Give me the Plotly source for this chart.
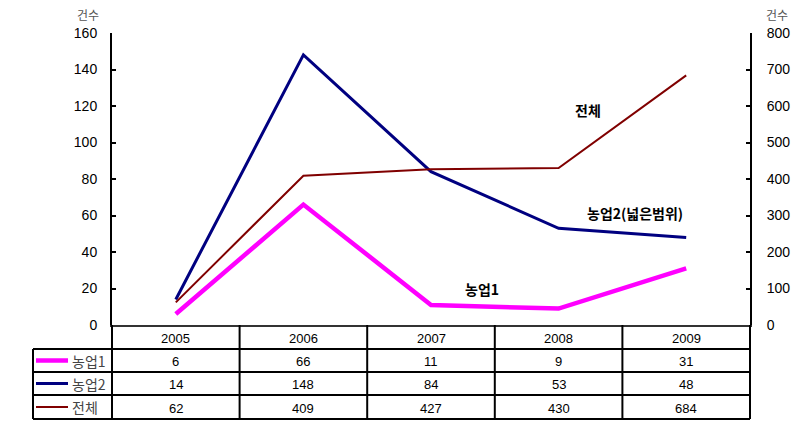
import plotly.graph_objects as go

years = ["2005", "2006", "2007", "2008", "2009"]
farm1 = [6, 66, 11, 9, 31]
farm2 = [14, 148, 84, 53, 48]
total = [62, 409, 427, 430, 684]
series_names = ["농업1", "농업2", "전체"]
left_ticks = [0, 20, 40, 60, 80, 100, 120, 140, 160]
right_ticks = [0, 100, 200, 300, 400, 500, 600, 700, 800]

W, H = 808, 440
L, R, T, B = 112, 750, 33, 325
FONT = "Liberation Sans, Arial, Noto Sans CJK KR"
KFONT = "Noto Sans CJK KR, Liberation Sans"

def px(x):
    return (x - L) / (R - L)

def py(y):
    return (B - y) / (B - T)

xi = list(range(len(years)))
fig = go.Figure()
fig.add_trace(go.Scatter(x=xi, y=total, yaxis="y2", mode="lines",
                         line=dict(color="#800000", width=2), name=series_names[2]))
fig.add_trace(go.Scatter(x=xi, y=farm2, mode="lines",
                         line=dict(color="#000080", width=3), name=series_names[1]))
fig.add_trace(go.Scatter(x=xi, y=farm1, mode="lines",
                         line=dict(color="#FF00FF", width=4.5), name=series_names[0]))

shapes = []
annotations = []

def text(x, y, s, font, xanchor="center"):
    annotations.append(dict(xref="paper", yref="paper", x=px(x), y=py(y), text=s,
                            xanchor=xanchor, yanchor="middle", showarrow=False, font=font))

# table geometry (pixel positions)
col_edges = [L + (R - L) * i / len(years) for i in range(len(years) + 1)]
row_edges = [325, 349, 372, 395, 419]
tbl_left = 33
lw = 2

def line(x0, y0, x1, y1, w=lw, c="black"):
    shapes.append(dict(type="line", xref="paper", yref="paper",
                       x0=px(x0), y0=py(y0), x1=px(x1), y1=py(y1),
                       line=dict(color=c, width=w)))

for ry in row_edges[1:]:
    line(tbl_left, ry, R, ry)
line(L, row_edges[0] + 1, R, row_edges[0] + 1, w=1.5, c="#333")
for cx in col_edges:
    line(cx, row_edges[0], cx, row_edges[-1])
line(tbl_left, row_edges[1], tbl_left, row_edges[-1])

numfont = dict(family=FONT, size=13, color="black")
for i, yr in enumerate(years):
    cx = (col_edges[i] + col_edges[i + 1]) / 2
    text(cx, (row_edges[0] + row_edges[1]) / 2 + 1, yr, numfont)

rows = [(series_names[0], farm1, "#FF00FF", 4.5),
        (series_names[1], farm2, "#000080", 3),
        (series_names[2], total, "#800000", 2)]
for r, (nm, vals, col, w) in enumerate(rows):
    yc = (row_edges[r + 1] + row_edges[r + 2]) / 2
    line(36, yc, 68, yc, w=w, c=col)
    text(70, yc, nm, dict(family=KFONT, size=14, color="#444"), xanchor="left")
    for i, v in enumerate(vals):
        cx = (col_edges[i] + col_edges[i + 1]) / 2
        text(cx, yc + 1, str(v), numfont)

# unit labels
unitfont = dict(family=KFONT, size=12, color="#555")
text(88, 14, "건수", unitfont)
text(777, 14, "건수", unitfont)

# series labels inside plot
lblfont = dict(family=KFONT, size=14, color="black")
for s, x, y in [("전체", 588, 110), ("농업2(넓은범위)", 635, 213), ("농업1", 482, 289)]:
    text(x, y, "<b>" + s + "</b>", lblfont)

# left axis extension below zero
line(L, B, L, 338)

fig.update_layout(
    width=W, height=H,
    margin=dict(l=L, r=W - R, t=T, b=H - B),
    plot_bgcolor="white", paper_bgcolor="white",
    showlegend=False,
    font=dict(family=FONT, size=13, color="black"),
    xaxis=dict(range=[-0.5, len(years) - 0.5], showticklabels=False, showgrid=False,
               zeroline=False, showline=True, linecolor="#333", linewidth=1.5, ticks=""),
    yaxis=dict(range=[0, 160], tickvals=left_ticks, showgrid=False, zeroline=False,
               showline=True, linecolor="black", linewidth=2, ticks="inside",
               ticklen=4, tickwidth=2, tickcolor="black", ticklabelstandoff=10,
               tickfont=dict(family=FONT, size=14)),
    yaxis2=dict(range=[0, 800], tickvals=right_ticks, overlaying="y", side="right",
                showgrid=False, zeroline=False, showline=True, linecolor="black",
                linewidth=2, ticks="inside", ticklen=4, tickwidth=2, tickcolor="black",
                ticklabelstandoff=12, tickfont=dict(family=FONT, size=14)),
    shapes=shapes, annotations=annotations,
)

fig.write_html("out.html")
